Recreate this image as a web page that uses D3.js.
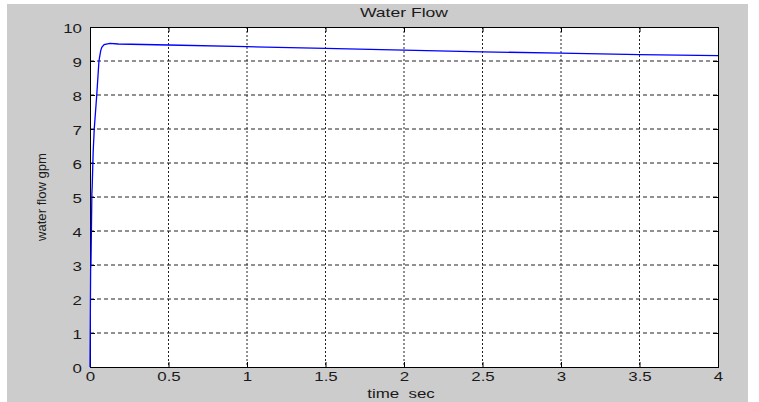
<!DOCTYPE html>
<html>
<head>
<meta charset="utf-8" />
<title>Water Flow</title>
<style>
html, body {
    padding: 0px;
    margin: 0px;
    background: #fff;
}
svg text {
    font-family: Arial, "Liberation Sans", sans-serif;
    fill: #1a1a1a;
}
.grid line {
    stroke: #222;
    stroke-width: 1;
}
</style>
</head>
<body>
<div id="chart"></div>
<script src="https://cdnjs.cloudflare.com/ajax/libs/d3/7.8.5/d3.min.js"></script>
<script>
!(function(){
    "use strict";

    // time (sec) and water flow (gpm)
    var timeSec = [0, 0.004, 0.006, 0.012, 0.014, 0.02, 0.027, 0.043, 0.057, 0.068, 0.075, 0.09, 0.127, 0.18, 0.5, 1, 1.5, 2, 2.5, 3, 3.5, 4];
    var flowGpm = [0, 2.9, 3.0, 5.1, 5.3, 6.3, 7.0, 8.0, 9.0, 9.3, 9.4, 9.48, 9.52, 9.5, 9.47, 9.42, 9.37, 9.32, 9.27, 9.23, 9.19, 9.16];

    var xTicks = [0, 0.5, 1, 1.5, 2, 2.5, 3, 3.5, 4];
    var yTicks = [0, 1, 2, 3, 4, 5, 6, 7, 8, 9, 10];

    var width = 759, height = 402;
    var left = 90, right = 718, top = 27, bottom = 367;
    var stretch = 1.3; // the source picture is widened a bit

    var svg = d3.select("#chart").append("svg")
        .attr("width", width)
        .attr("height", height);

    // grey figure background
    svg.append("rect")
        .attr("x", 7).attr("y", 4)
        .attr("width", 741).attr("height", 398)
        .attr("fill", "#cccccc");

    var x = d3.scaleLinear().domain([0, 4]).range([left, right]);
    var y = d3.scaleLinear().domain([0, 10]).range([bottom, top]);

    svg.append("rect")
        .attr("x", left).attr("y", top)
        .attr("width", right - left).attr("height", bottom - top)
        .attr("fill", "#fff");

    // grid
    var grid = svg.append("g").attr("class", "grid");
    grid.selectAll(".gx")
        .data(xTicks.slice(1, -1))
        .enter().append("line")
        .attr("x1", function(d){ return x(d); })
        .attr("x2", function(d){ return x(d); })
        .attr("y1", top).attr("y2", bottom)
        .attr("stroke-dasharray", "2,2");
    grid.selectAll(".gy")
        .data(yTicks.slice(1, -1))
        .enter().append("line")
        .attr("x1", left).attr("x2", right)
        .attr("y1", function(d){ return y(d); })
        .attr("y2", function(d){ return y(d); })
        .attr("stroke-dasharray", "4,3");

    // axes, ticks point inward like matlab
    var xAxis = d3.axisBottom(x).tickValues(xTicks).tickSize(-5).tickPadding(5)
        .tickFormat(function(d){ return d; });
    var yAxis = d3.axisLeft(y).tickValues(yTicks).tickSize(-5).tickPadding(8)
        .tickFormat(function(d){ return d; });

    var gx = svg.append("g").attr("transform", "translate(0," + bottom + ")").call(xAxis);
    var gy = svg.append("g").attr("transform", "translate(" + left + ",0)").call(yAxis);
    svg.append("g").attr("transform", "translate(0," + top + ")")
        .call(d3.axisTop(x).tickValues(xTicks).tickSize(-5).tickFormat(""));
    svg.append("g").attr("transform", "translate(" + right + ",0)")
        .call(d3.axisRight(y).tickValues(yTicks).tickSize(-5).tickFormat(""));

    svg.selectAll(".domain").attr("stroke", "#000");
    svg.selectAll(".tick line").attr("stroke", "#000");
    gx.selectAll("text").attr("font-size", 13).attr("fill", "#1a1a1a");
    gy.selectAll("text").attr("font-size", 13).attr("fill", "#1a1a1a").attr("dy", "0.4em");

    // the flow curve
    var line = d3.line()
        .x(function(d, i){ return x(timeSec[i]); })
        .y(function(d){ return y(d); });

    svg.append("path")
        .datum(flowGpm)
        .attr("d", line)
        .attr("fill", "none")
        .attr("stroke", "#0000ff")
        .attr("stroke-width", 1.3);

    // labels
    svg.append("text")
        .attr("class", "wide")
        .attr("x", (left + right) / 2).attr("y", 17)
        .attr("text-anchor", "middle")
        .attr("font-size", 13.5)
        .text("Water Flow");

    svg.append("text")
        .attr("class", "wide")
        .attr("x", (left + right) / 2 - 3).attr("y", 398)
        .attr("text-anchor", "middle")
        .attr("font-size", 13)
        .style("white-space", "pre")
        .text("time  sec");

    svg.append("text")
        .attr("transform", "translate(46," + ((top + bottom) / 2) + ") rotate(-90)")
        .attr("text-anchor", "middle")
        .attr("font-size", 13)
        .attr("textLength", 88)
        .attr("lengthAdjust", "spacingAndGlyphs")
        .text("water flow gpm");

    // widen horizontal texts to match the stretched source
    gx.selectAll("text").classed("wide", true);
    gy.selectAll("text").classed("wide", true);
    svg.selectAll("text.wide").each(function(){
        var len = this.getComputedTextLength();
        d3.select(this)
            .attr("textLength", len * stretch)
            .attr("lengthAdjust", "spacingAndGlyphs");
    });
}());
</script>
</body>
</html>
